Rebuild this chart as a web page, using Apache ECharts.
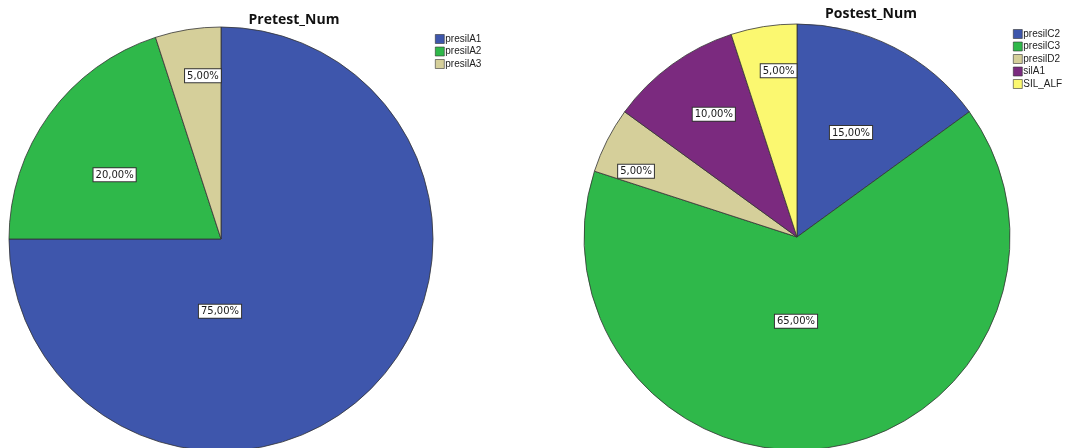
<!DOCTYPE html>
<html>
<head>
<meta charset="utf-8">
<script src="https://cdn.jsdelivr.net/npm/echarts@6/dist/echarts.min.js"></script>
<style>
  html, body { margin: 0; padding: 0; background: #fff; }
  #chart { width: 1066px; height: 448px; }
</style>
</head>
<body>
<div id="chart"></div>
<script>
const preNames = ['presilA1', 'presilA2', 'presilA3'];
const preValues = [75, 20, 5];
const preColors = ['#3E56AC', '#2FB84A', '#D5CF9A'];

const postNames = ['presilC2', 'presilC3', 'presilD2', 'silA1', 'SIL_ALF'];
const postValues = [15, 65, 5, 10, 5];
const postColors = ['#3E56AC', '#2FB84A', '#D5CF9A', '#7B2A7F', '#FBF870'];

// where SPSS puts the % boxes: [angle clockwise from 12 o'clock, fraction of radius]
const preLabelPolar = [[180, 0.345], [301, 0.58], [354, 0.77]];
const postLabelPolar = [[28, 0.55], [180, 0.40], [292, 0.81], [326, 0.69], [354, 0.78]];

const chart = echarts.init(document.getElementById('chart'));

const toData = (names, values, colors) =>
  names.map((n, i) => ({ name: n, value: values[i], itemStyle: { color: colors[i] } }));

const pctLabel = p => p.value.toFixed(2).replace('.', ',') + '%';

const labelStyle = {
  show: true,
  position: 'inside',
  formatter: pctLabel,
  color: '#1a1a1a',
  fontFamily: 'DejaVu Sans',
  fontSize: 10,
  backgroundColor: '#fff',
  borderColor: '#333',
  borderWidth: 1,
  padding: [2, 2, 1, 2]
};

const legendBase = {
  orient: 'vertical',
  icon: 'rect',
  itemWidth: 9,
  itemHeight: 9,
  itemGap: 2.5,
  textStyle: { fontFamily: 'Liberation Sans', fontSize: 10, color: '#222', padding: [0, 0, 0, -4] },
  itemStyle: { borderColor: '#333', borderWidth: 0.6 },
  selectedMode: false
};

// move each % box to its SPSS spot
const placeLabels = (center, radius, polar) => p => {
  const [ang, frac] = polar[p.dataIndex];
  const a = ang * Math.PI / 180;
  const cx = center[0] + Math.sin(a) * frac * radius;
  const cy = center[1] - Math.cos(a) * frac * radius;
  return {
    x: cx - p.labelRect.width / 2,
    y: cy - p.labelRect.height / 2,
    align: 'left',
    verticalAlign: 'top'
  };
};

const makePie = (center, radius, data, polar) => ({
  type: 'pie',
  center: center,
  radius: radius,
  startAngle: 90,
  clockwise: true,
  itemStyle: { borderColor: '#333', borderWidth: 0.8 },
  label: labelStyle,
  labelLine: { show: false },
  labelLayout: placeLabels(center, radius, polar),
  emphasis: { disabled: true },
  data: data
});

const option = {
  backgroundColor: '#fff',
  animation: false,
  title: [
    { text: 'Pretest_Num', left: 289, top: 8, textAlign: 'center',
      textStyle: { fontFamily: 'Open Sans', fontWeight: 'bold', fontSize: 14, color: '#111' } },
    { text: 'Postest_Num', left: 866, top: 2, textAlign: 'center',
      textStyle: { fontFamily: 'Open Sans', fontWeight: 'bold', fontSize: 14, color: '#111' } }
  ],
  legend: [
    Object.assign({}, legendBase, { left: 430, top: 29, data: preNames }),
    Object.assign({}, legendBase, { left: 1008, top: 24, data: postNames })
  ],
  series: [
    makePie([221, 239], 212, toData(preNames, preValues, preColors), preLabelPolar),
    makePie([797, 237], 213, toData(postNames, postValues, postColors), postLabelPolar)
  ]
};

chart.setOption(option);
window.addEventListener('resize', () => chart.resize());
</script>
</body>
</html>
